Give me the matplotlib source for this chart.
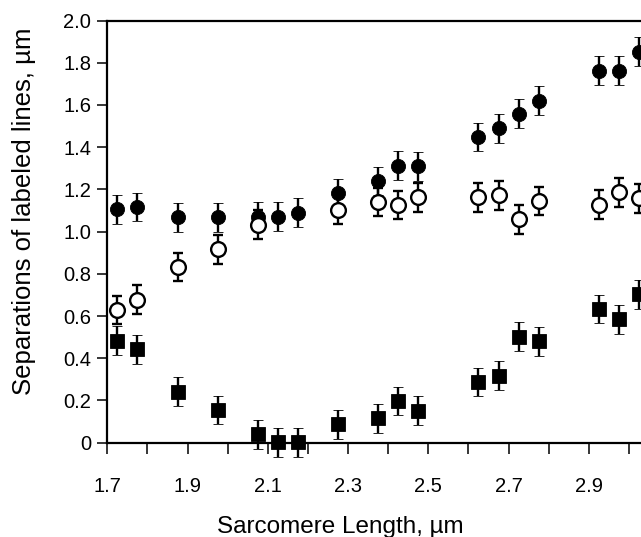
import matplotlib
matplotlib.use("Agg")
import matplotlib.pyplot as plt

plt.rcParams['font.family'] = ['Liberation Sans', 'DejaVu Sans']

# Sarcomere length (um)
sl = [1.725, 1.775, 1.875, 1.975, 2.075, 2.125, 2.175, 2.275, 2.375,
      2.425, 2.475, 2.625, 2.675, 2.725, 2.775, 2.925, 2.975, 3.025]

# filled circles
filled_y = [1.105, 1.117, 1.067, 1.067, 1.070, 1.070, 1.090, 1.183, 1.240,
            1.312, 1.310, 1.448, 1.490, 1.558, 1.620, 1.762, 1.762, 1.853]
filled_err = [0.068] * 18

# open circles (absent at 2.125 and 2.175)
open_x = [1.725, 1.775, 1.875, 1.975, 2.075, 2.275, 2.375, 2.425, 2.475,
          2.625, 2.675, 2.725, 2.775, 2.925, 2.975, 3.025]
open_y = [0.628, 0.677, 0.833, 0.916, 1.032, 1.102, 1.140, 1.126, 1.162,
          1.162, 1.172, 1.058, 1.145, 1.128, 1.186, 1.158]
open_err = [0.068] * 16

# filled squares
sq_y = [0.483, 0.442, 0.242, 0.155, 0.040, 0.002, 0.002, 0.087, 0.115,
        0.198, 0.151, 0.288, 0.318, 0.503, 0.480, 0.634, 0.584, 0.703]
sq_err = [0.068] * 18

xticks = [1.7, 1.8, 1.9, 2.0, 2.1, 2.2, 2.3, 2.4, 2.5, 2.6, 2.7, 2.8, 2.9, 3.0]
xticklabels = ['1.7', '', '1.9', '', '2.1', '', '2.3', '', '2.5', '', '2.7', '', '2.9', '']
yticks = [0, 0.2, 0.4, 0.6, 0.8, 1.0, 1.2, 1.4, 1.6, 1.8, 2.0]
yticklabels = ['0', '0.2', '0.4', '0.6', '0.8', '1.0', '1.2', '1.4', '1.6', '1.8', '2.0']

fig = plt.figure(figsize=(6.41, 5.37), dpi=100)
ax = fig.add_axes([0.1674, 0.1363, 0.8326, 0.8255])

eb_kw = dict(ecolor='black', elinewidth=1.7, capsize=3.5, capthick=2.0,
             linestyle='none', clip_on=False)

ax.errorbar(sl, sq_y, yerr=sq_err, fmt='s', ms=10.2, mfc='black', mec='black',
            mew=0.6, zorder=3, **eb_kw)
ax.errorbar(sl, filled_y, yerr=filled_err, fmt='o', ms=10.2, mfc='black',
            mec='black', mew=0.6, zorder=3, **eb_kw)
ax.errorbar(open_x, open_y, yerr=open_err, fmt='o', ms=10.6, mfc='white',
            mec='black', mew=1.7, zorder=4, **eb_kw)

ax.set_xlim(1.7, 3.03)
ax.set_ylim(-0.1, 2.0)

ax.spines['right'].set_visible(False)
ax.spines['bottom'].set_position(('data', 0))
ax.spines['left'].set_bounds(0, 2.0)
for s in ['left', 'bottom', 'top']:
    ax.spines[s].set_linewidth(1.6)

ax.set_xticks(xticks)
ax.set_xticklabels(xticklabels)
ax.set_yticks(yticks)
ax.set_yticklabels(yticklabels)
ax.tick_params(axis='x', direction='out', length=8, width=1.1, pad=17,
               labelsize=14.5)
ax.tick_params(axis='y', direction='out', length=7, width=1.1, pad=4.5,
               labelsize=14.5)

fig.text(340.5 / 641, 1 - 533 / 537, 'Sarcomere Length, \u00b5m', ha='center',
         va='baseline', fontsize=17.5)
fig.text(24 / 641, 1 - 211 / 537, 'Separations of labeled lines, \u00b5m',
         ha='center', va='center', rotation=90, fontsize=18.5)

fig.savefig('out.png', dpi=100)
